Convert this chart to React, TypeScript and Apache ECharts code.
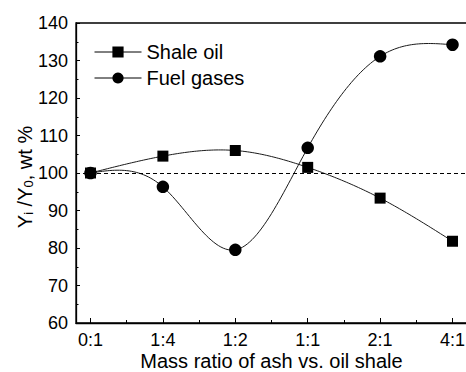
import { useEffect, useRef } from 'react';
import * as echarts from 'echarts';

const categories = ['0:1', '1:4', '1:2', '1:1', '2:1', '4:1'];
const shaleOil = [100, 104.5, 106, 101.5, 93.3, 81.8];
const fuelGases = [100, 96.3, 79.5, 106.7, 131.1, 134.2];
const yMin = 60;
const yMax = 140;
const yInterval = 10;
const refLine = 100;

const FONT = 'Arial, "Liberation Sans", Helvetica, sans-serif';

// categories are placed at positions 1..6 on a value axis
const pos = (i: number) => i + 1;

function naturalSpline(ys: number[], steps: number): number[][] {
  const n = ys.length;
  const M = new Array(n).fill(0);
  const m = n - 2;
  const a: number[] = [], b: number[] = [], c: number[] = [], d: number[] = [];
  for (let i = 1; i <= n - 2; i++) {
    a.push(1); b.push(4); c.push(1);
    d.push(6 * (ys[i + 1] - 2 * ys[i] + ys[i - 1]));
  }
  for (let i = 1; i < m; i++) {
    const w = a[i] / b[i - 1];
    b[i] -= w * c[i - 1];
    d[i] -= w * d[i - 1];
  }
  const sol = new Array(m).fill(0);
  if (m > 0) {
    sol[m - 1] = d[m - 1] / b[m - 1];
    for (let i = m - 2; i >= 0; i--) sol[i] = (d[i] - c[i] * sol[i + 1]) / b[i];
  }
  for (let i = 0; i < m; i++) M[i + 1] = sol[i];
  const pts: number[][] = [];
  for (let i = 0; i < n - 1; i++) {
    const last = i === n - 2;
    for (let k = 0; k < (last ? steps + 1 : steps); k++) {
      const u = k / steps;
      const v = 1 - u;
      const s = v * ys[i] + u * ys[i + 1] + ((v * v * v - v) * M[i] + (u * u * u - u) * M[i + 1]) / 6;
      pts.push([pos(i) + u, s]);
    }
  }
  return pts;
}

const makeCurve = (ys: number[]) => (params: any, api: any) => {
  if (params.dataIndex !== 0) return;
  const pts = naturalSpline(ys, 30).map((p) => api.coord(p));
  return {
    type: 'polyline',
    silent: true,
    shape: { points: pts },
    style: { stroke: '#1a1a1a', lineWidth: 1, fill: 'none' },
  };
};

export default function App() {
  const ref = useRef<HTMLDivElement>(null);
  useEffect(() => {
    if (!ref.current) return;
    const chart = echarts.init(ref.current, undefined, { renderer: 'svg' });
    const idx = categories.map((_, i) => pos(i));
    const half = categories.slice(1).map((_, i) => pos(i) + 0.5);
    chart.setOption({
      animation: false,
      backgroundColor: '#fff',
      textStyle: { fontFamily: FONT, color: '#000' },
      grid: {
        left: 76, top: 23, width: 391, height: 300,
        outerBoundsMode: 'none', containLabel: false,
        show: true, borderColor: '#000', borderWidth: 1.3, backgroundColor: 'transparent',
      },
      legend: {
        data: ['Shale oil', 'Fuel gases'],
        orient: 'vertical',
        left: 89, top: 37,
        itemWidth: 47, itemHeight: 14, itemGap: 6,
        textStyle: { fontFamily: FONT, fontSize: 20, color: '#000' },
        lineStyle: { color: '#000', width: 1, opacity: 1 },
        selectedMode: false,
      },
      xAxis: [
        {
          type: 'value', min: 0.8, max: 6.2,
          axisLine: { show: true, onZero: false, lineStyle: { color: '#000', width: 1.3 } },
          axisTick: { show: true, inside: true, length: 5, customValues: idx, lineStyle: { color: '#000', width: 1 } },
          axisLabel: {
            customValues: idx, margin: 8, fontSize: 18, color: '#000', fontFamily: FONT,
            formatter: (v: number) => categories[Math.round(v) - 1] ?? '',
          },
          splitLine: { show: false },
          name: 'Mass ratio of ash vs. oil shale',
          nameLocation: 'middle', nameGap: 28, nameMoveOverlap: false,
          nameTextStyle: { fontSize: 20, color: '#000', fontFamily: FONT },
        },
        {
          type: 'value', min: 0.8, max: 6.2, position: 'bottom',
          axisLine: { show: false, onZero: false },
          axisTick: { show: true, inside: true, length: 3, customValues: half, lineStyle: { color: '#000', width: 1 } },
          axisLabel: { show: false },
          splitLine: { show: false },
        },
      ],
      yAxis: {
        type: 'value', min: yMin, max: yMax, interval: yInterval,
        axisLine: { show: true, onZero: false, lineStyle: { color: '#000', width: 1.3 } },
        axisTick: { show: true, inside: true, length: 4, lineStyle: { color: '#000', width: 1 } },
        minorTick: { show: true, splitNumber: 2, length: 2.5, lineStyle: { color: '#000', width: 1 } },
        axisLabel: { margin: 8, fontSize: 18, color: '#000', fontFamily: FONT },
        splitLine: { show: false },
      },
      graphic: [
        {
          type: 'text',
          x: 22, y: 177,
          rotation: Math.PI / 2,
          style: {
            text: '{n|Y}{s|i}{n| /Y}{s|0}{n|, wt %}',
            align: 'center', verticalAlign: 'middle',
            fill: '#000',
            rich: {
              n: { fontSize: 20, fontFamily: FONT, lineHeight: 26, verticalAlign: 'bottom', fill: '#000' },
              s: { fontSize: 13, fontFamily: FONT, lineHeight: 6, verticalAlign: 'bottom', fill: '#000' },
            },
          },
        },
      ],
      series: [
        {
          name: 'Fuel gases curve', type: 'custom', xAxisIndex: 0, yAxisIndex: 0,
          data: fuelGases.map((v, i) => [pos(i), v]), renderItem: makeCurve(fuelGases), z: 2, silent: true,
        },
        {
          name: 'Shale oil curve', type: 'custom', xAxisIndex: 0, yAxisIndex: 0,
          data: shaleOil.map((v, i) => [pos(i), v]), renderItem: makeCurve(shaleOil), z: 2, silent: true,
        },
        {
          name: 'Fuel gases', type: 'line', xAxisIndex: 0,
          data: fuelGases.map((v, i) => [pos(i), v]),
          symbol: 'circle', symbolSize: 12.5, showSymbol: true,
          itemStyle: { color: '#000' },
          lineStyle: { opacity: 0, width: 0 },
          z: 3,
          markLine: {
            silent: true, symbol: 'none', label: { show: false },
            lineStyle: { color: '#000', type: [4, 3], width: 1 },
            data: [{ yAxis: refLine }],
          },
        },
        {
          name: 'Shale oil', type: 'line', xAxisIndex: 0,
          data: shaleOil.map((v, i) => [pos(i), v]),
          symbol: 'rect', symbolSize: 11, showSymbol: true,
          itemStyle: { color: '#000' },
          lineStyle: { opacity: 0, width: 0 },
          z: 4,
        },
      ],
    });
    return () => chart.dispose();
  }, []);
  return (
    <div
      ref={ref}
      style={{ position: 'fixed', left: 0, top: 0, width: 466, height: 372, background: '#fff' }}
    />
  );
}
